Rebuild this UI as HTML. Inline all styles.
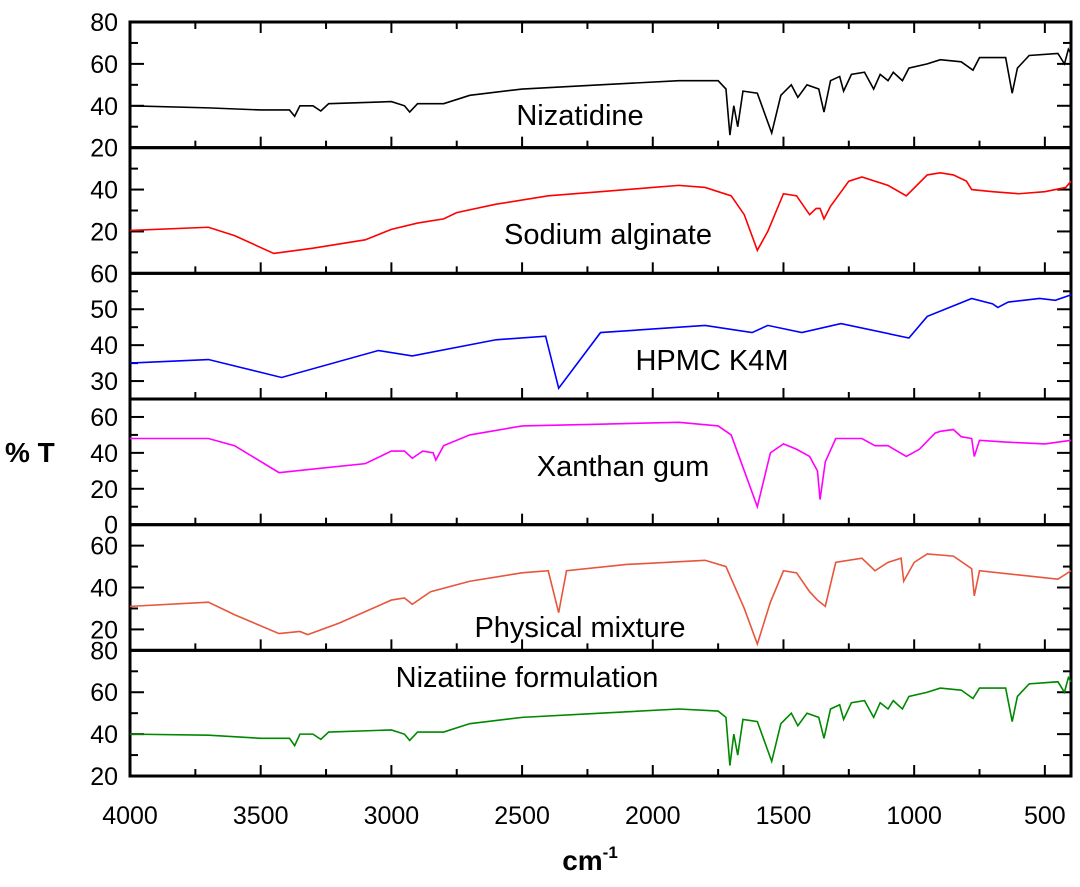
<!DOCTYPE html>
<html><head><meta charset="utf-8"><style>
body{margin:0;background:#fff}
svg text{font-family:"Liberation Sans",sans-serif}
</style></head><body>
<svg id="c" width="1080" height="882" xmlns="http://www.w3.org/2000/svg"></svg>
<script>
const xTicks=[4000,3500,3000,2500,2000,1500,1000,500];
const names=["Nizatidine","Sodium alginate","HPMC K4M","Xanthan gum","Physical mixture","Nizatiine formulation"];
const colors=["#000","#f00","#00f","#f0f","#e8553c","#080"];
const ranges=[[20,80],[0,60],[25,60],[0,70],[10,70],[20,80]];
const yTickLabels=[[40,60,80,20],[20,40],[30,40,50,60],[0,20,40,60],[20,40,60],[20,40,60,80]];
const labelPos=[[580,115],[608,234],[712,360],[623,466],[580,627],[527,677]];
const niz=[[4000,40],[3700,39],[3500,38],[3390,38],[3370,35],[3350,40],[3300,40],[3270,37.5],[3240,41],[3000,42],[2950,40],[2930,37],[2900,41],[2850,41],[2800,41],[2700,45],[2500,48],[2200,50],[1900,52],[1750,52],[1720,48],[1705,26],[1690,40],[1675,30],[1655,47],[1600,46],[1545,27],[1510,45],[1470,50],[1445,44],[1410,50],[1365,48],[1345,37],[1320,52],[1285,54],[1270,47],[1240,55],[1190,56],[1155,48],[1130,55],[1100,52],[1080,56],[1045,52],[1020,58],[950,60],[900,62],[820,61],[775,57],[750,63],[650,63],[625,46],[605,58],[560,64],[450,65],[425,60],[410,67],[400,65]];
const alg=[[4000,20.5],[3700,22],[3600,18],[3450,9.5],[3300,12],[3100,16],[3000,21],[2900,24],[2800,26],[2750,29],[2600,33],[2400,37],[2200,39],[2000,41],[1900,42],[1800,41],[1700,37],[1650,28],[1600,11],[1560,20],[1500,38],[1450,37],[1400,28],[1375,31],[1360,31],[1345,26],[1320,32],[1250,44],[1200,46],[1100,42],[1030,37],[950,47],[900,48],[850,47],[800,44],[780,40],[700,39],[600,38],[500,39],[420,41],[400,44]];
const hpmc=[[4000,35],[3700,36],[3420,31],[3050,38.5],[2920,37],[2600,41.5],[2410,42.5],[2360,28],[2200,43.5],[1800,45.5],[1620,43.5],[1560,45.5],[1430,43.5],[1280,46],[1020,42],[950,48],[780,53],[700,51.5],[680,50.5],[640,52],[520,53],[460,52.5],[400,54]];
const xan=[[4000,48],[3700,48],[3600,44],[3430,29],[3300,31],[3100,34],[3000,41],[2950,41],[2920,37],[2880,41],[2840,40],[2830,36],[2800,44],[2700,50],[2500,55],[2200,56],[1900,57],[1750,55],[1700,50],[1650,30],[1600,10],[1550,40],[1500,45],[1450,42],[1400,38],[1370,30],[1360,14],[1340,35],[1300,48],[1200,48],[1150,44],[1100,44],[1030,38],[980,42],[920,51],[900,52],[850,53],[820,49],[780,48],[770,38],[750,47],[650,46],[500,45],[400,47]];
const phys=[[4000,31],[3700,33],[3600,27],[3430,18],[3350,19],[3320,17.5],[3200,23],[3000,34],[2950,35],[2920,32],[2850,38],[2700,43],[2500,47],[2400,48],[2360,28],[2330,48],[2100,51],[1800,53],[1720,50],[1650,30],[1600,13],[1550,33],[1500,48],[1450,47],[1400,38],[1370,34],[1340,31],[1300,52],[1200,54],[1150,48],[1100,52],[1050,54],[1040,43],[1000,52],[950,56],[850,55],[780,49],[770,36],[750,48],[600,46],[450,44],[400,48]];
const form=[[4000,40],[3700,39.5],[3500,38],[3390,38],[3370,34.5],[3350,40],[3300,40],[3270,37.5],[3240,41],[3000,42],[2950,40],[2930,37],[2900,41],[2800,41],[2700,45],[2500,48],[2200,50],[1900,52],[1750,51],[1720,48],[1705,25],[1690,40],[1675,30],[1655,47],[1600,46],[1545,27],[1510,45],[1470,50],[1445,44],[1410,50],[1365,48],[1345,38],[1320,52],[1285,54],[1270,47],[1240,55],[1190,56],[1155,48],[1130,55],[1100,52],[1080,56],[1045,52],[1020,58],[950,60],[900,62],[820,61],[775,57],[750,62],[650,62],[625,46],[605,58],[560,64],[450,65],[425,60],[410,67],[400,65]];
const series=[niz,alg,hpmc,xan,phys,form];

const svg=document.getElementById('c');
const NS='http://www.w3.org/2000/svg';
const L=130,R=1071,T=22,PH=125.67;
const xs=w=>L+(4000-w)*(R-L)/3600;
function mk(t,a,p){const e=document.createElementNS(NS,t);for(const k in a)e.setAttribute(k,a[k]);(p||svg).appendChild(e);return e;}
for(let i=0;i<6;i++){
  const top=T+i*PH,bot=top+PH,[lo,hi]=ranges[i];
  const ys=v=>bot-(v-lo)*PH/(hi-lo);
  const g=mk('g',{});
  
  
  mk('rect',{x:L,y:top,width:R-L,height:PH,fill:'none',stroke:'#000','stroke-width':3},g);
  for(let w=4000;w>=400;w-=250){const x=xs(w);mk('line',{x1:x,x2:x,y1:bot,y2:bot-(w%500?7:11),stroke:'#000','stroke-width':2},g);
    if(i==0)mk('line',{x1:x,x2:x,y1:top,y2:top+(w%500?7:11),stroke:'#000','stroke-width':2},g);}
  const step=(i==2)?5:10;
  for(let v=Math.ceil(lo/step)*step;v<=hi;v+=step){const y=ys(v),maj=(v%(step*2)==0);
    mk('line',{x1:L,x2:L+(maj?14:8),y1:y,y2:y,stroke:'#000','stroke-width':2},g);
    mk('line',{x1:R,x2:R-(maj?14:8),y1:y,y2:y,stroke:'#000','stroke-width':2},g);}
  yTickLabels[i].forEach(v=>{const t=mk('text',{x:L-12,y:ys(v)+9,'font-size':25,'text-anchor':'end'},g);t.textContent=v;
    });
  const p=mk('polyline',{points:series[i].map(d=>xs(d[0])+','+ys(d[1])).join(' '),fill:'none',stroke:colors[i],'stroke-width':1.6},g);
  
  
  const t=mk('text',{x:labelPos[i][0],y:labelPos[i][1]+10,'font-size':29,'text-anchor':'middle'},g);
  t.textContent=names[i];
  
  
}
xTicks.forEach(w=>{const t=mk('text',{x:xs(w),y:824,'font-size':25,'text-anchor':'middle'});t.textContent=w;
  });
const xt=mk('text',{x:590,y:870,'font-size':28,'font-weight':'bold','text-anchor':'middle'});
xt.innerHTML='cm<tspan dy="-12" font-size="17">-1</tspan>';


const yt=mk('text',{x:5,y:462,'font-size':28,'font-weight':'bold'});
yt.textContent='% T';


</script>
</body></html>
